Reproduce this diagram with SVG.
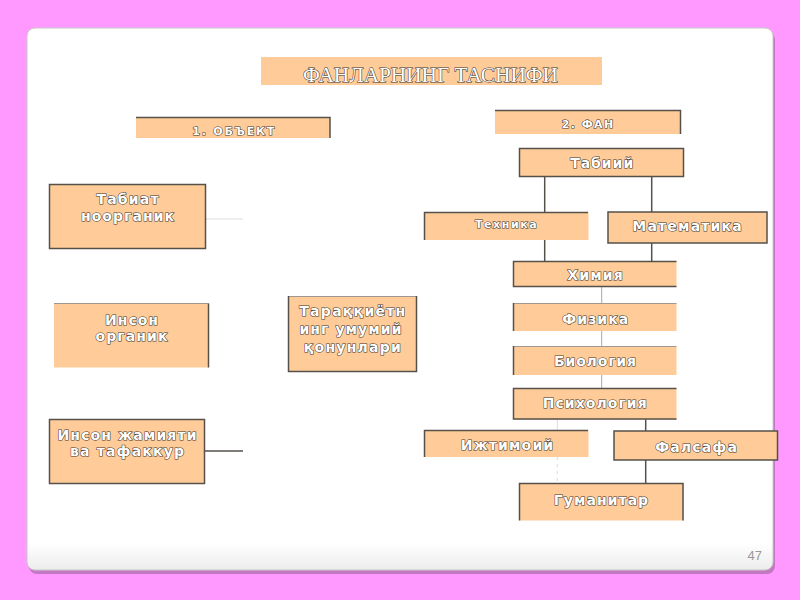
<svg xmlns="http://www.w3.org/2000/svg" width="800" height="600" viewBox="0 0 800 600">
<defs>
<linearGradient id="cardg" x1="0" y1="0" x2="0" y2="1">
<stop offset="0" stop-color="#ffffff"/>
<stop offset="0.95" stop-color="#ffffff"/>
<stop offset="1" stop-color="#ececec"/>
</linearGradient>
<style>
.box{fill:#ffcc99;}
.bd{stroke:#55504a;stroke-width:1.5;fill:none;}
.bl{stroke:#a09890;stroke-width:1;fill:none;}
.t{font-family:"DejaVu Sans",Verdana,sans-serif;font-weight:bold;fill:#ffffff;stroke:#3a3530;stroke-width:1.1;paint-order:stroke;text-anchor:middle;}
.title{font-family:"Liberation Serif","Times New Roman",serif;font-size:20px;fill:#ffffff;stroke:#3a3530;stroke-width:1;paint-order:stroke;text-anchor:middle;}
.c{stroke:#55504a;stroke-width:1.5;fill:none;}
.cg{stroke:#a8a8a8;stroke-width:1;fill:none;}
.cf{stroke:#dddddd;stroke-width:1;fill:none;}
</style>
</defs>
<rect x="0" y="0" width="800" height="600" fill="#ff99ff"/>
<rect x="29" y="32" width="746" height="542" rx="8" fill="#c478c4"/>
<rect x="27" y="28" width="746" height="542" rx="8" fill="url(#cardg)" stroke="#c8c8c8" stroke-width="1"/>
<text x="762" y="560" font-family="Liberation Sans, Arial, sans-serif" font-size="13" fill="#999999" text-anchor="end">47</text>

<g id="connectors">
<line class="c" x1="544.7" y1="177" x2="544.7" y2="212"/>
<line class="c" x1="651.7" y1="177" x2="651.7" y2="212"/>
<line class="c" x1="544.7" y1="240" x2="544.7" y2="261"/>
<line class="c" x1="651.7" y1="243" x2="651.7" y2="261"/>
<line class="cg" x1="601.7" y1="287" x2="601.7" y2="303"/>
<line class="cg" x1="601.7" y1="331" x2="601.7" y2="346"/>
<line class="cg" x1="601.7" y1="375" x2="601.7" y2="388"/>
<line class="cf" x1="557.3" y1="419" x2="557.3" y2="430"/>
<line class="c" x1="645.7" y1="419" x2="645.7" y2="431"/>
<line class="cf" x1="557.3" y1="457" x2="557.3" y2="483" stroke-dasharray="3 4"/>
<line class="c" x1="645.7" y1="460" x2="645.7" y2="483"/>
<line class="cf" x1="206" y1="219" x2="243" y2="219"/>
<line x1="209" y1="335.7" x2="288" y2="335.7" stroke="#ffffff" stroke-width="1"/>
<line class="c" x1="205" y1="451" x2="243" y2="451" stroke-width="1.2"/>
</g>

<g id="title">
<rect class="box" x="261" y="57" width="341" height="28"/>
<text class="title" x="430.5" y="82" textLength="255" lengthAdjust="spacingAndGlyphs">ФАНЛАРНИНГ ТАСНИФИ</text>
</g>

<g id="obekt">
<rect class="box" x="136" y="117" width="194" height="21"/>
<path class="bd" d="M136 117.5H330V138"/>
<text class="t" x="233.3" y="135" font-size="11" textLength="82" lengthAdjust="spacing">1. ОБЪЕКТ</text>
</g>

<g id="fan">
<rect class="box" x="495" y="110" width="186" height="24"/>
<path class="bd" d="M495 110.5H680.5V134"/>
<text class="t" x="587.5" y="127.5" font-size="11" textLength="51.6" lengthAdjust="spacing">2. ФАН</text>
</g>

<g id="tabiat">
<rect class="box" x="49.5" y="184.5" width="156" height="64"/>
<rect class="bd" x="49.5" y="184.5" width="156" height="64"/>
<text class="t" x="127.5" y="204" font-size="14" textLength="62" lengthAdjust="spacing">Табиат</text>
<text class="t" x="127.5" y="221" font-size="14" textLength="93" lengthAdjust="spacing">ноорганик</text>
</g>

<g id="inson-organik">
<rect class="box" x="54" y="303.5" width="155" height="64"/>
<path class="bl" d="M54 303.5H208.5"/>
<path class="bd" d="M208.5 303.5V367.5"/>
<text class="t" x="131.5" y="325" font-size="14" textLength="53" lengthAdjust="spacing">Инсон</text>
<text class="t" x="131.5" y="340.7" font-size="14" textLength="72" lengthAdjust="spacing">органик</text>
</g>

<g id="taraqqiyot">
<rect class="box" x="288" y="296" width="129" height="76"/>
<path class="bl" d="M288 296.5H416.5"/>
<path class="bd" d="M288.5 296V371.5H416.5V296"/>
<text class="t" x="352.3" y="316" font-size="14" textLength="106" lengthAdjust="spacing">Тараққиётн</text>
<text class="t" x="350.5" y="334" font-size="14" textLength="102" lengthAdjust="spacing">инг умумий</text>
<text class="t" x="352.3" y="352" font-size="14" textLength="97" lengthAdjust="spacing">қонунлари</text>
</g>

<g id="inson-jamiyat">
<rect class="box" x="49.5" y="419.5" width="155" height="64"/>
<rect class="bd" x="49.5" y="419.5" width="155" height="64"/>
<text class="t" x="127" y="440" font-size="14" textLength="139" lengthAdjust="spacing">Инсон жамияти</text>
<text class="t" x="127" y="455.7" font-size="14" textLength="114" lengthAdjust="spacing">ва тафаккур</text>
</g>

<g id="tabiiy">
<rect class="box" x="519.5" y="148.5" width="164" height="28"/>
<rect class="bd" x="519.5" y="148.5" width="164" height="28"/>
<text class="t" x="601.7" y="168" font-size="14" textLength="63" lengthAdjust="spacing">Табиий</text>
</g>

<g id="texnika">
<rect class="box" x="424.5" y="212" width="164" height="28"/>
<path class="bd" d="M424.5 240V212.5H588"/>
<text class="t" x="505.8" y="228" font-size="11" textLength="61.7" lengthAdjust="spacing">Техника</text>
</g>

<g id="matematika">
<rect class="box" x="608" y="212" width="159" height="31"/>
<rect class="bd" x="608" y="212" width="159" height="31"/>
<text class="t" x="687" y="231" font-size="14" textLength="109.4" lengthAdjust="spacing">Математика</text>
</g>

<g id="ximiya">
<rect class="box" x="513.5" y="261" width="163" height="26"/>
<path class="bd" d="M676.5 261.5H513.5V286.5H676.5"/>
<text class="t" x="595" y="280" font-size="14" textLength="55.4" lengthAdjust="spacing">Химия</text>
</g>

<g id="fizika">
<rect class="box" x="513.5" y="303" width="163" height="28"/>
<path class="bl" d="M513.5 303.5H676.5"/>
<path class="bd" d="M513.5 303V331"/>
<text class="t" x="595.3" y="323.5" font-size="14" textLength="66" lengthAdjust="spacing">Физика</text>
</g>

<g id="biologiya">
<rect class="box" x="513.5" y="346" width="163" height="29"/>
<path class="bl" d="M513.5 346.5H676.5"/>
<path class="bd" d="M513.5 346V375"/>
<text class="t" x="595" y="366" font-size="14" textLength="82" lengthAdjust="spacing">Биология</text>
</g>

<g id="psixologiya">
<rect class="box" x="513.5" y="388.5" width="163" height="31"/>
<path class="bd" d="M676.5 388.5H513.5V419H676.5"/>
<text class="t" x="594.7" y="407.7" font-size="14" textLength="104" lengthAdjust="spacing">Психология</text>
</g>

<g id="ijtimoiy">
<rect class="box" x="424.5" y="430" width="164" height="27"/>
<path class="bd" d="M424.5 457V430.5H588"/>
<text class="t" x="507" y="450" font-size="14" textLength="92.3" lengthAdjust="spacing">Ижтимоий</text>
</g>

<g id="falsafa">
<rect class="box" x="614" y="431" width="163.5" height="29"/>
<rect class="bd" x="614" y="431" width="163.5" height="29"/>
<text class="t" x="696" y="451.5" font-size="14" textLength="81.7" lengthAdjust="spacing">Фалсафа</text>
</g>

<g id="gumanitar">
<rect class="box" x="519.5" y="483.5" width="164" height="37"/>
<path class="bd" d="M519.5 520.5V483.5H683V520.5"/>
<text class="t" x="601" y="505" font-size="14" textLength="94.3" lengthAdjust="spacing">Гуманитар</text>
</g>
</svg>
